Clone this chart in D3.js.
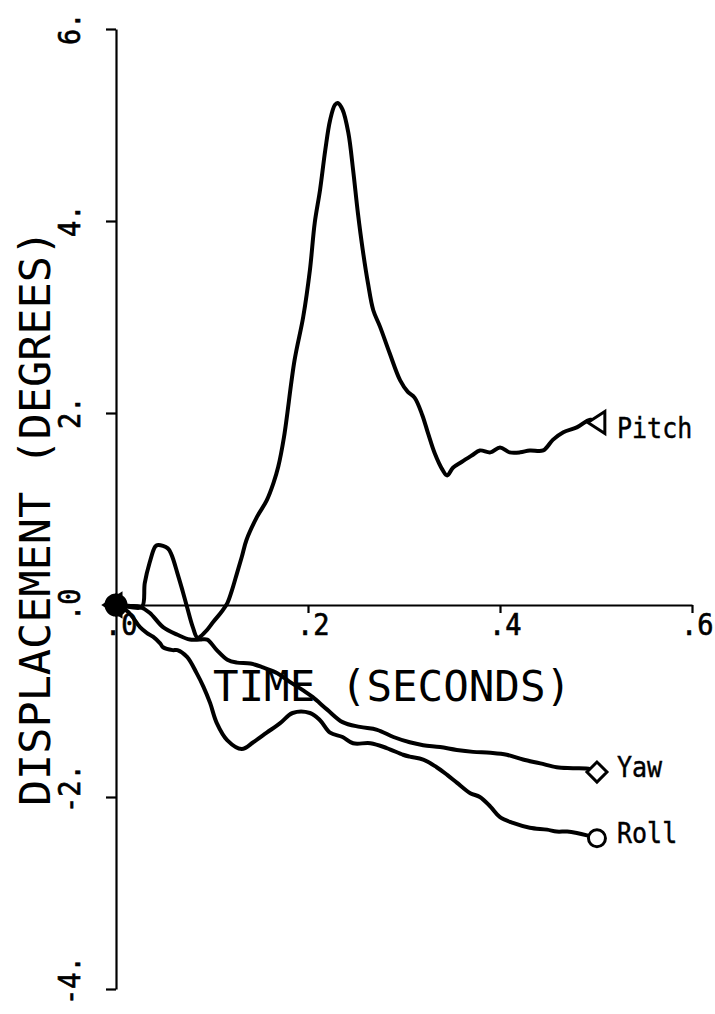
<!DOCTYPE html>
<html>
<head>
<meta charset="utf-8">
<script src="https://cdn.jsdelivr.net/npm/d3@7"></script>
<style>
  html, body { margin: 0; padding: 0; background: #fff; }
  svg { display: block; }
  text { font-family: "DejaVu Sans Mono", "Liberation Mono", monospace; fill: #000; }
</style>
</head>
<body>
<svg id="chart" width="715" height="1014"></svg>
<script>
// ---- data (time in seconds, displacement in degrees) ----
const pitchT = [0, .0146, .027, .030, .035, .041, .044, .054, .058, .064, .069, .074, .080, .085, .093, .101, .110, .116, .121, .126, .131, .136, .147, .157, .164, .169, .175, .186, .195, .202, .207, .2125, .218, .223, .228, .231, .236, .242, .247, .252, .257, .2625, .268, .275, .285, .296, .304, .311, .319, .325, .332, .340, .345, .351, .360, .371, .379, .390, .400, .410, .421, .431, .445, .455, .466, .480, .494, .504];
const pitchV = [0, -.02, -.02, .23, .44, .61, .625, .59, .52, .33, .16, -.02, -.23, -.34, -.28, -.18, -.07, .02, .16, .33, .50, .68, .92, 1.09, 1.27, 1.44, 1.75, 2.55, 3.0, 3.49, 3.98, 4.32, 4.74, 5.05, 5.21, 5.23, 5.16, 4.92, 4.53, 4.08, 3.70, 3.35, 3.07, 2.90, 2.625, 2.34, 2.22, 2.16, 1.98, 1.79, 1.58, 1.41, 1.35, 1.43, 1.49, 1.56, 1.61, 1.59, 1.64, 1.59, 1.59, 1.61, 1.61, 1.72, 1.80, 1.85, 1.93, 1.90];

const yawT = [0, .015, .025, .035, .049, .064, .077, .0875, .095, .105, .116, .126, .140, .153, .168, .181, .195, .205, .220, .236, .254, .272, .289, .306, .320, .3375, .355, .372, .390, .407, .424, .442, .459, .476, .494, .501];
const yawV = [0, -.01, -.02, -.08, -.23, -.31, -.36, -.36, -.36, -.47, -.57, -.60, -.61, -.65, -.71, -.80, -.89, -.96, -1.09, -1.22, -1.27, -1.30, -1.375, -1.43, -1.46, -1.48, -1.51, -1.53, -1.54, -1.56, -1.61, -1.65, -1.69, -1.70, -1.71, -1.74];

const rollT = [0, .0125, .025, .032, .0385, .046, .049, .059, .064, .074, .084, .091, .098, .105, .116, .131, .143, .157, .171, .184, .202, .2125, .223, .236, .247, .265, .282, .299, .306, .320, .334, .345, .355, .369, .379, .390, .400, .4135, .431, .449, .459, .470, .480, .4906, .501];
const rollV = [0, -.07, -.23, -.29, -.33, -.40, -.44, -.47, -.47, -.54, -.71, -.85, -1.02, -1.23, -1.41, -1.50, -1.43, -1.33, -1.23, -1.125, -1.125, -1.20, -1.33, -1.375, -1.44, -1.44, -1.49, -1.56, -1.58, -1.61, -1.69, -1.77, -1.85, -1.96, -2.00, -2.10, -2.21, -2.27, -2.32, -2.34, -2.36, -2.36, -2.375, -2.40, -2.43];

const seriesNames = ["Pitch", "Yaw", "Roll"];
const markerKinds = ["triangle", "diamond", "circle"];

const xTicks = [0.2, 0.4, 0.6];
const xTickLabels = [".0", ".2", ".4", ".6"];
const xLabelValues = [0, 0.2, 0.4, 0.6];
const yTicks = [-4, -2, 0, 2, 4, 6];
const yTickLabels = ["-4.", "-2.", ".0", "2.", "4.", "6."];

const xTitle = "TIME (SECONDS)";
const yTitle = "DISPLACEMENT (DEGREES)";

// ---- drawing ----
const svg = d3.select("#chart");
const x = d3.scaleLinear().domain([0, 0.6]).range([116, 692]);
const y = d3.scaleLinear().domain([-4, 6]).range([989, 29]);

// axes
const gy = svg.append("g").attr("transform", `translate(${x(0)},0)`)
  .call(d3.axisLeft(y).tickValues(yTicks).tickSize(10).tickSizeOuter(0).tickFormat(""));
const gx = svg.append("g").attr("transform", `translate(0,${y(0)})`)
  .call(d3.axisBottom(x).tickValues(xTicks).tickSize(8).tickSizeOuter(0).tickFormat(""));
[gx, gy].forEach(g => {
  g.selectAll("path.domain").attr("stroke", "#000").attr("stroke-width", 2.2);
  g.selectAll(".tick line").attr("stroke", "#000").attr("stroke-width", 2.2);
});

// y tick labels (rotated)
svg.append("g").selectAll("text").data(yTicks).join("text")
  .attr("transform", d => `translate(80,${y(d) + 16}) rotate(-90) scale(1,1.1)`)
  .attr("text-anchor", "start")
  .attr("font-size", 27)
  .attr("stroke", "#000").attr("stroke-width", 0.6)
  .text((d, i) => yTickLabels[i]);

// x tick labels
svg.append("g").selectAll("text").data(xLabelValues).join("text")
  .attr("transform", d => `translate(${x(d) - 11},635) scale(1,1.1)`)
  .attr("text-anchor", "start")
  .attr("font-size", 27)
  .attr("stroke", "#000").attr("stroke-width", 0.6)
  .text((d, i) => xTickLabels[i]);

// axis titles
svg.append("text")
  .attr("transform", `translate(50,518) rotate(-90)`)
  .attr("text-anchor", "middle")
  .attr("font-size", 43.5)
  .text(yTitle);
svg.append("text")
  .attr("x", 392).attr("y", 701)
  .attr("text-anchor", "middle")
  .attr("font-size", 42.5)
  .text(xTitle);

// lines
const series = [
  { name: seriesNames[0], t: pitchT, v: pitchV, kind: markerKinds[0] },
  { name: seriesNames[1], t: yawT, v: yawV, kind: markerKinds[1] },
  { name: seriesNames[2], t: rollT, v: rollV, kind: markerKinds[2] }
];
const line = d3.line().x(d => x(d[0])).y(d => y(d[1])).curve(d3.curveCatmullRom.alpha(0.5));
series.forEach(s => {
  const pts = s.t.map((t, i) => [t, s.v[i]]);
  svg.append("path").datum(pts)
    .attr("d", line)
    .attr("fill", "none")
    .attr("stroke", "#000")
    .attr("stroke-width", 4)
    .attr("stroke-linejoin", "round")
    .attr("stroke-linecap", "round");
});

function marker(g, kind, cx, cy, filled) {
  const fill = filled ? "#000" : "#fff";
  if (kind === "circle") {
    g.append("circle").attr("cx", cx).attr("cy", cy).attr("r", filled ? 10 : 8.5)
      .attr("fill", fill).attr("stroke", "#000").attr("stroke-width", 3);
  } else if (kind === "diamond") {
    g.append("path").attr("d", `M${cx - 10},${cy} L${cx},${cy - 10} L${cx + 10},${cy} L${cx},${cy + 10} Z`)
      .attr("fill", fill).attr("stroke", "#000").attr("stroke-width", 3);
  } else {
    g.append("path").attr("d", `M${cx - 12},${cy} L${cx + 5},${cy - 11} L${cx + 5},${cy + 11} Z`)
      .attr("fill", fill).attr("stroke", "#000").attr("stroke-width", 3);
  }
}

const mg = svg.append("g");
series.forEach(s => {
  const n = s.t.length - 1;
  marker(mg, s.kind, x(s.t[0]), y(s.v[0]), true);
  marker(mg, s.kind, x(s.t[n]), y(s.v[n]), false);
});

// series labels
const labelOffsets = [438, 777, 843];
series.forEach((s, i) => {
  svg.append("text")
    .attr("transform", `translate(617,${labelOffsets[i]}) scale(1,1.1)`)
    .attr("font-size", 25)
    .attr("stroke", "#000").attr("stroke-width", 0.4)
    .text(s.name);
});
</script>
</body>
</html>
